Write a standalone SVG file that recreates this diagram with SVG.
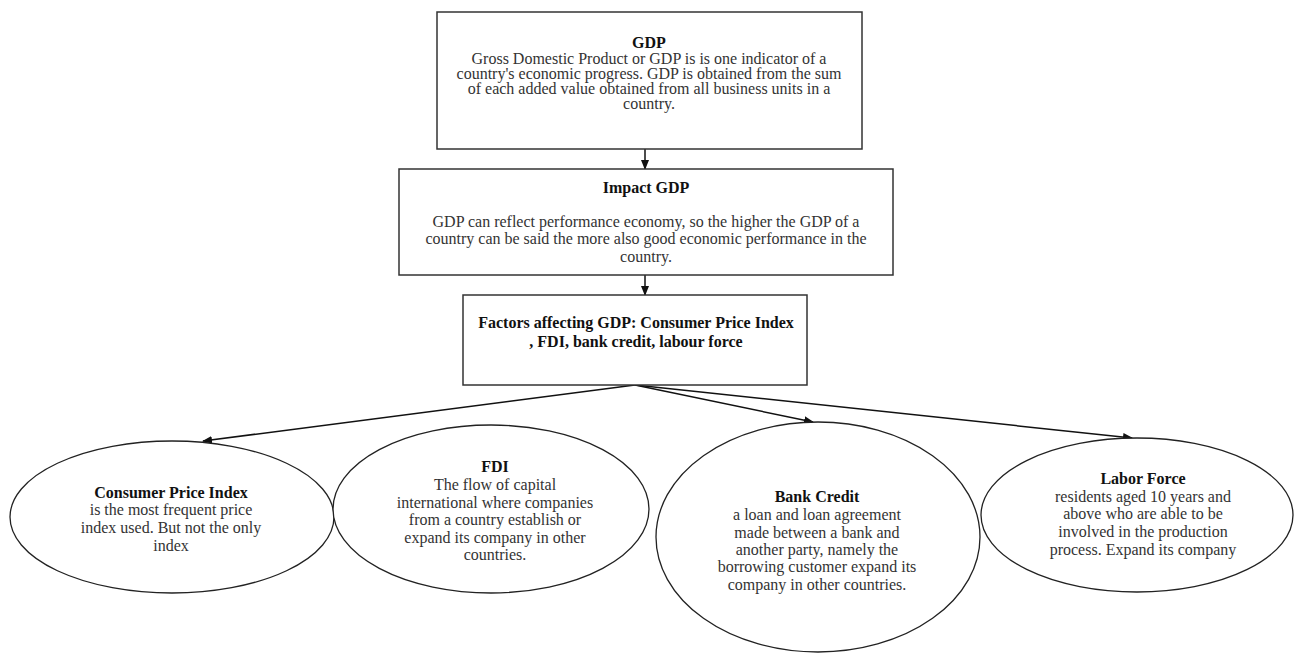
<svg xmlns="http://www.w3.org/2000/svg" width="1295" height="654" viewBox="0 0 1295 654">
<defs>
<marker id="ah" markerWidth="10" markerHeight="10" refX="9" refY="5" orient="auto" markerUnits="userSpaceOnUse">
<path d="M0,1 L10,5 L0,9 Z" fill="#111"/>
</marker>
<style>
.box{fill:#fff;stroke:#333;stroke-width:1.5}
.ell{fill:#fff;stroke:#222;stroke-width:1.3}
.t{font-family:"Liberation Serif","Times New Roman",serif;font-size:16px;fill:#333;text-anchor:middle}
.b{font-family:"Liberation Serif","Times New Roman",serif;font-size:16px;font-weight:bold;fill:#111;text-anchor:middle}
.c{stroke:#111;stroke-width:1.5;fill:none;marker-end:url(#ah)}
</style>
</defs>
<rect width="1295" height="654" fill="#fff"/>
<g id="connectors">
<line class="c" x1="645" y1="149" x2="645" y2="169"/>
<line class="c" x1="645" y1="275" x2="645" y2="295"/>
<line class="c" x1="635" y1="385" x2="203" y2="441"/>
<line class="c" x1="635" y1="385" x2="813" y2="422"/>
<line class="c" x1="635" y1="385" x2="1132" y2="438"/>
</g>
<g id="gdp">
<rect class="box" x="437" y="12" width="425" height="137"/>
<text class="b" x="649" y="48">GDP</text>
<text class="t" x="649" y="64">Gross Domestic Product or GDP is is one indicator of a</text>
<text class="t" x="649" y="79">country's economic progress. GDP is obtained from the sum</text>
<text class="t" x="649" y="94">of each added value obtained from all business units in a</text>
<text class="t" x="649" y="109">country.</text>
</g>
<g id="impact">
<rect class="box" x="399" y="169" width="494" height="106"/>
<text class="b" x="646" y="193">Impact GDP</text>
<text class="t" x="646" y="227">GDP can reflect performance economy, so the higher the GDP of a</text>
<text class="t" x="646" y="244">country can be said the more also good economic performance in the</text>
<text class="t" x="646" y="262">country.</text>
</g>
<g id="factors">
<rect class="box" x="463" y="295" width="344" height="90"/>
<text class="b" x="636" y="328">Factors affecting GDP: Consumer Price Index</text>
<text class="b" x="636" y="347">, FDI, bank credit, labour force</text>
</g>
<g id="cpi">
<ellipse class="ell" cx="172" cy="517" rx="162" ry="76"/>
<text class="b" x="171" y="498">Consumer Price Index</text>
<text class="t" x="171" y="515">is the most frequent price</text>
<text class="t" x="171" y="533">index used. But not the only</text>
<text class="t" x="171" y="551">index</text>
</g>
<g id="fdi">
<ellipse class="ell" cx="491" cy="509" rx="158" ry="84"/>
<text class="b" x="495" y="472">FDI</text>
<text class="t" x="495" y="490">The flow of capital</text>
<text class="t" x="495" y="508">international where companies</text>
<text class="t" x="495" y="525">from a country establish or</text>
<text class="t" x="495" y="543">expand its company in other</text>
<text class="t" x="495" y="560">countries.</text>
</g>
<g id="bank">
<ellipse class="ell" cx="818" cy="537" rx="162" ry="115"/>
<text class="b" x="817" y="502">Bank Credit</text>
<text class="t" x="817" y="520">a loan and loan agreement</text>
<text class="t" x="817" y="538">made between a bank and</text>
<text class="t" x="817" y="555">another party, namely the</text>
<text class="t" x="817" y="572">borrowing customer expand its</text>
<text class="t" x="817" y="590">company in other countries.</text>
</g>
<g id="labor">
<ellipse class="ell" cx="1137" cy="515" rx="156" ry="77"/>
<text class="b" x="1143" y="484">Labor Force</text>
<text class="t" x="1143" y="502">residents aged 10 years and</text>
<text class="t" x="1143" y="519">above who are able to be</text>
<text class="t" x="1143" y="537">involved in the production</text>
<text class="t" x="1143" y="555">process. Expand its company</text>
</g>
</svg>
